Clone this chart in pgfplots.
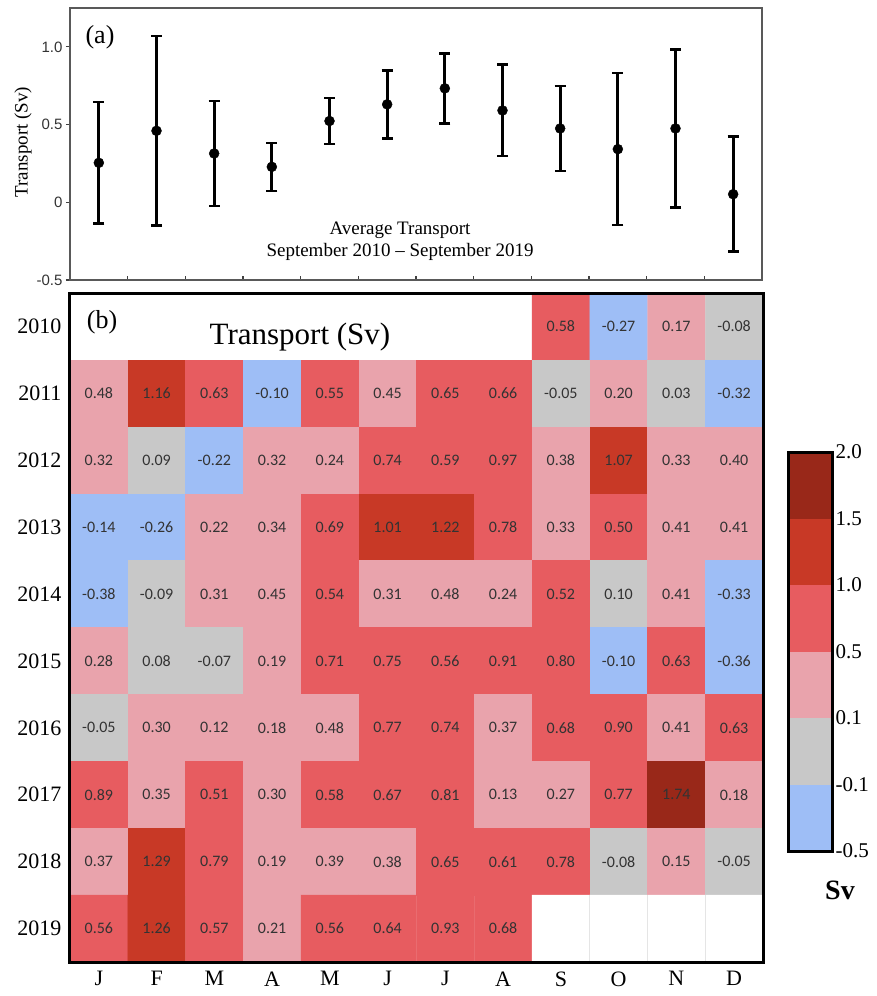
\documentclass[border=0pt]{standalone}
\usepackage{fontspec}
\setmainfont{Liberation Serif}
\newfontfamily\arialfont{Liberation Sans}
\newfontfamily\cellfont{Carlito}
\usepackage{pgfplots}
\pgfplotsset{compat=1.18}
\usepackage{pgfplotstable}

\definecolor{cblue}{RGB}{158,190,246}
\definecolor{cgray}{RGB}{200,200,200}
\definecolor{cpink}{RGB}{233,163,172}
\definecolor{cred}{RGB}{231,92,96}
\definecolor{cdark}{RGB}{200,57,38}
\definecolor{cdarkest}{RGB}{153,40,25}

% monthly average transport with spread
\pgfplotstableread{
x y e
1 0.254 0.392
2 0.460 0.610
3 0.314 0.338
4 0.228 0.155
5 0.523 0.147
6 0.630 0.218
7 0.733 0.225
8 0.591 0.294
9 0.475 0.274
10 0.342 0.489
11 0.475 0.507
12 0.052 0.370
}\avg

% monthly transport (Sv); c = colour class 0..5, 6 = no data
\pgfplotstableread{
m yr v c
1 2010 nan 6
2 2010 nan 6
3 2010 nan 6
4 2010 nan 6
5 2010 nan 6
6 2010 nan 6
7 2010 nan 6
8 2010 nan 6
9 2010 0.58 3
10 2010 -0.27 0
11 2010 0.17 2
12 2010 -0.08 1
1 2011 0.48 2
2 2011 1.16 4
3 2011 0.63 3
4 2011 -0.10 0
5 2011 0.55 3
6 2011 0.45 2
7 2011 0.65 3
8 2011 0.66 3
9 2011 -0.05 1
10 2011 0.20 2
11 2011 0.03 1
12 2011 -0.32 0
1 2012 0.32 2
2 2012 0.09 1
3 2012 -0.22 0
4 2012 0.32 2
5 2012 0.24 2
6 2012 0.74 3
7 2012 0.59 3
8 2012 0.97 3
9 2012 0.38 2
10 2012 1.07 4
11 2012 0.33 2
12 2012 0.40 2
1 2013 -0.14 0
2 2013 -0.26 0
3 2013 0.22 2
4 2013 0.34 2
5 2013 0.69 3
6 2013 1.01 4
7 2013 1.22 4
8 2013 0.78 3
9 2013 0.33 2
10 2013 0.50 3
11 2013 0.41 2
12 2013 0.41 2
1 2014 -0.38 0
2 2014 -0.09 1
3 2014 0.31 2
4 2014 0.45 2
5 2014 0.54 3
6 2014 0.31 2
7 2014 0.48 2
8 2014 0.24 2
9 2014 0.52 3
10 2014 0.10 1
11 2014 0.41 2
12 2014 -0.33 0
1 2015 0.28 2
2 2015 0.08 1
3 2015 -0.07 1
4 2015 0.19 2
5 2015 0.71 3
6 2015 0.75 3
7 2015 0.56 3
8 2015 0.91 3
9 2015 0.80 3
10 2015 -0.10 0
11 2015 0.63 3
12 2015 -0.36 0
1 2016 -0.05 1
2 2016 0.30 2
3 2016 0.12 2
4 2016 0.18 2
5 2016 0.48 2
6 2016 0.77 3
7 2016 0.74 3
8 2016 0.37 2
9 2016 0.68 3
10 2016 0.90 3
11 2016 0.41 2
12 2016 0.63 3
1 2017 0.89 3
2 2017 0.35 2
3 2017 0.51 3
4 2017 0.30 2
5 2017 0.58 3
6 2017 0.67 3
7 2017 0.81 3
8 2017 0.13 2
9 2017 0.27 2
10 2017 0.77 3
11 2017 1.74 5
12 2017 0.18 2
1 2018 0.37 2
2 2018 1.29 4
3 2018 0.79 3
4 2018 0.19 2
5 2018 0.39 2
6 2018 0.38 2
7 2018 0.65 3
8 2018 0.61 3
9 2018 0.78 3
10 2018 -0.08 1
11 2018 0.15 2
12 2018 -0.05 1
1 2019 0.56 3
2 2019 1.26 4
3 2019 0.57 3
4 2019 0.21 2
5 2019 0.56 3
6 2019 0.64 3
7 2019 0.93 3
8 2019 0.68 3
9 2019 nan 6
10 2019 nan 6
11 2019 nan 6
12 2019 nan 6
}\heat

\begin{document}
\begin{tikzpicture}[x=1pt,y=1pt]
\path[use as bounding box] (0,0) rectangle (877,-996);

% ---------- (a) ----------
\begin{axis}[
  at={(70pt,-280pt)}, anchor=south west, scale only axis,
  width=692pt, height=272pt,
  xmin=0.5, xmax=12.5, ymin=-0.5, ymax=1.25,
  xtick={1.5,2.5,...,11.5}, xticklabels={},
  ytick={-0.5,0,0.5,1}, yticklabels={-0.5,0,0.5,1.0},
  xtick pos=bottom, ytick pos=left,
  xtick align=inside, ytick align=outside,
  major tick length=4pt,
  tick style={black!75, line width=1.2pt},
  axis line style={draw=black!65, line width=1.5pt},
  yticklabel style={font=\arialfont\fontsize{15}{15}\selectfont, text=black!80},
  clip=false,
]
\addplot[black, only marks, mark=*, mark size=5pt,
  error bars/.cd, y dir=both, y explicit,
  error bar style={line width=3pt},
  error mark options={rotate=90, mark size=5.5pt, line width=2.5pt}]
  table[x=x, y=y, y error=e]{\avg};
\end{axis}
\node[font=\fontsize{26}{26}\selectfont] at (100,-37) {(a)};
\node[rotate=90, font=\fontsize{19}{19}\selectfont] at (23,-142) {Transport (Sv)};
\node[align=center, font=\fontsize{19}{22}\selectfont] at (400,-241)
  {Average Transport\\September 2010 -- September 2019};

% ---------- (b) ----------
\begin{axis}[
  at={(70pt,-962pt)}, anchor=south west, scale only axis,
  width=693pt, height=669pt,
  xmin=0.5, xmax=12.5, ymin=2009.5, ymax=2019.5, y dir=reverse,
  xtick={1,...,12}, xticklabels={J,F,M,A,M,J,J,A,S,O,N,D},
  ytick={2010,...,2019},
  yticklabels={2010,2011,2012,2013,2014,2015,2016,2017,2018,2019},
  major tick length=0pt,
  axis line style={black, line width=3pt},
  tick label style={font=\fontsize{22}{22}\selectfont},
  xticklabel style={yshift=-6pt},
  yticklabel style={xshift=-5pt},
  colormap={hm}{rgb255=(158,190,246) rgb255=(200,200,200) rgb255=(233,163,172)
    rgb255=(231,92,96) rgb255=(200,57,38) rgb255=(153,40,25) rgb255=(255,255,255)},
  colormap access=direct,
  axis on top,
]
\addplot[matrix plot*, mesh/cols=12, point meta=explicit]
  table[x=m, y=yr, meta=c]{\heat};
\addplot[only marks, mark=none, point meta=explicit,
  restrict expr to domain={\thisrow{c}}{0:5},
  nodes near coords={\cellfont\fontsize{16}{16}\selectfont\pgfmathprintnumber[fixed,fixed zerofill,precision=2,assume math mode=true]{\pgfplotspointmeta}},
  every node near coord/.append style={anchor=center, text=black!80}]
  table[x=m, y=yr, meta=v]{\heat};
\draw[black!10, line width=0.8pt] (axis cs:9.5,2018.5) -- (axis cs:9.5,2019.5)
  (axis cs:10.5,2018.5) -- (axis cs:10.5,2019.5)
  (axis cs:11.5,2018.5) -- (axis cs:11.5,2019.5);
\end{axis}
\node[font=\fontsize{26}{26}\selectfont] at (102,-322) {(b)};
\node[font=\fontsize{31}{31}\selectfont] at (300,-337) {Transport (Sv)};

% ---------- colour bar ----------
\begin{axis}[
  at={(788pt,-851pt)}, anchor=south west, scale only axis,
  width=44pt, height=399pt,
  xmin=0, xmax=1, ymin=0, ymax=6,
  xtick=\empty, ytick={0,...,6},
  yticklabels={-0.5,-0.1,0.1,0.5,1.0,1.5,2.0},
  yticklabel pos=right, major tick length=0pt,
  tick label style={font=\fontsize{21}{21}\selectfont},
  axis line style={black, line width=3pt},
  axis on top,
  ybar stacked, bar width=44pt, bar shift=0pt,
]
\addplot[fill=cblue, draw=none] coordinates {(0.5,1)};
\addplot[fill=cgray, draw=none] coordinates {(0.5,1)};
\addplot[fill=cpink, draw=none] coordinates {(0.5,1)};
\addplot[fill=cred, draw=none] coordinates {(0.5,1)};
\addplot[fill=cdark, draw=none] coordinates {(0.5,1)};
\addplot[fill=cdarkest, draw=none] coordinates {(0.5,1)};
\end{axis}
\node[font=\bfseries\fontsize{28}{28}\selectfont] at (840,-890) {Sv};
\end{tikzpicture}
\end{document}
